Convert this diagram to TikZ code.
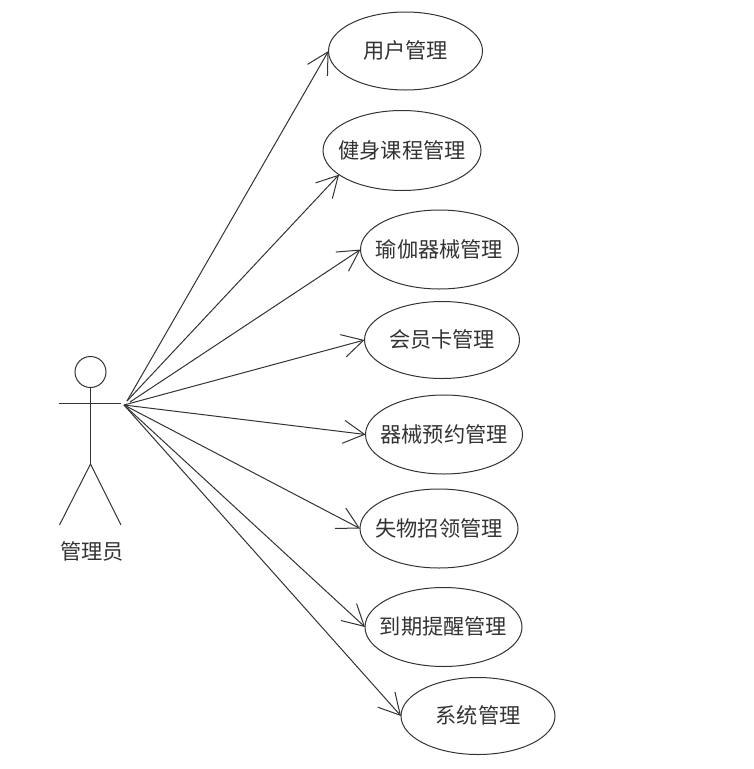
\documentclass[tikz,border=0pt]{standalone}
\usepackage{fontspec}
\setmainfont{Noto Sans CJK SC}
\usetikzlibrary{arrows.meta,shapes.geometric}
\definecolor{ink}{gray}{0.2}
\newcommand{\uctext}[1]{\makebox[0pt]{\raisebox{-7.5pt}[0pt][0pt]{#1}}}
\tikzset{
  usecase/.style={draw=ink,ellipse,line width=1pt,inner sep=0pt,outer sep=0pt,text=ink,font=\fontsize{21.2}{24}\selectfont},
  limb/.style={draw=ink,line width=1pt},
  assoc/.style={draw=ink,line width=1pt,-{Straight Barb[length=21pt,width=23pt,line width=1pt]}}
}
\begin{document}
\begin{tikzpicture}[x=1pt,y=-1pt]
\useasboundingbox (0,0) rectangle (753,769);
\node[usecase,minimum width=154pt,minimum height=78pt] (u1) at (405.5,51) {\uctext{用户管理}};
\node[usecase,minimum width=158pt,minimum height=80pt] (u2) at (402,150.5) {\uctext{健身课程管理}};
\node[usecase,minimum width=158pt,minimum height=79pt] (u3) at (439.5,249.5) {\uctext{瑜伽器械管理}};
\node[usecase,minimum width=155pt,minimum height=77pt] (u4) at (442,340) {\uctext{会员卡管理}};
\node[usecase,minimum width=157pt,minimum height=79pt] (u5) at (444,434.5) {\uctext{器械预约管理}};
\node[usecase,minimum width=158pt,minimum height=79pt] (u6) at (439,528.5) {\uctext{失物招领管理}};
\node[usecase,minimum width=157pt,minimum height=79pt] (u7) at (443.5,627) {\uctext{到期提醒管理}};
\node[usecase,minimum width=154pt,minimum height=77pt] (u8) at (478,716) {\uctext{系统管理}};
% actor
\node[draw=ink,circle,line width=1pt,minimum size=31pt,inner sep=0pt,outer sep=0pt] (head) at (90.5,372) {};
\coordinate (armL) at (59,403);
\coordinate (armR) at (121,403);
\coordinate (hip) at (90.5,464);
\coordinate (legL) at (59.5,525);
\coordinate (legR) at (121,525);
\draw[limb] (armL) -- (armR);
\draw[limb] (head.south) -- (hip);
\draw[limb] (legL) -- (hip) -- (legR);
\node[text=ink,font=\fontsize{21.2}{24}\selectfont,inner sep=0pt] (actor) at (92,551) {管理员};
\coordinate (srcA) at (127,401);
\coordinate (srcB) at (130,402);
\coordinate (srcC) at (124,405);
\draw[assoc] (srcA) -- (u1.west);
\draw[assoc] (srcA) -- (u2.201);
\draw[assoc] (srcB) -- (u3.west);
\draw[assoc] (srcC) -- (u4.west);
\draw[assoc] (srcC) -- (u5.west);
\draw[assoc] (srcC) -- (u6.west);
\draw[assoc] (srcC) -- (u7.west);
\draw[assoc] (srcC) -- (u8.west);
\end{tikzpicture}
\end{document}
